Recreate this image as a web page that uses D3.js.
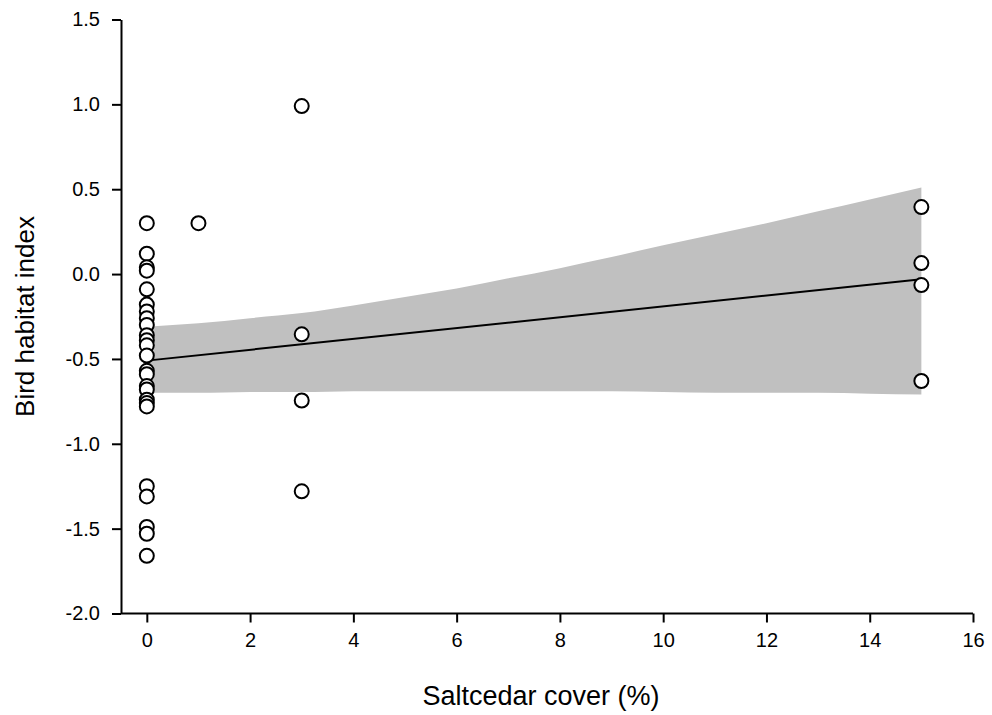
<!DOCTYPE html>
<html>
<head>
<meta charset="utf-8">
<script src="https://cdn.jsdelivr.net/npm/d3@7.9.0/dist/d3.min.js"></script>
<style>
  body { margin: 0; background: #fff; }
  svg text { font-family: Arial, "Liberation Sans", sans-serif; fill: #000; }
</style>
</head>
<body>
<svg id="chart" width="992" height="715"></svg>
<script>
// --- data ---
const xTicks = [0, 2, 4, 6, 8, 10, 12, 14, 16];
const yTicks = [-2.0, -1.5, -1.0, -0.5, 0.0, 0.5, 1.0, 1.5];

// observations: saltcedar cover (%) and bird habitat index
const coverX = [
  0, 0, 0, 0, 0, 0, 0, 0, 0, 0, 0, 0, 0, 0, 0, 0, 0, 0, 0, 0, 0, 0, 0, 0, 0,
  1,
  3, 3, 3, 3,
  15, 15, 15, 15
];
const habitatY = [
  0.30, 0.12, 0.04, 0.02, -0.09, -0.18, -0.22, -0.26, -0.30, -0.36, -0.39, -0.42,
  -0.48, -0.57, -0.59, -0.66, -0.68, -0.74, -0.76, -0.78, -1.25, -1.31, -1.49, -1.53, -1.66,
  0.30,
  0.99, -0.355, -0.745, -1.28,
  0.395, 0.065, -0.065, -0.63
];

// fitted line + 95% band
const fitX     = [0, 15];
const fitY     = [-0.51, -0.03];
const bandX    = [0, 1, 2, 3, 4, 5, 6, 7, 8, 9, 10, 11, 12, 13, 14, 15];
const bandUp   = [-0.31, -0.29, -0.26, -0.23, -0.185, -0.135, -0.085, -0.025, 0.035, 0.10, 0.17, 0.235, 0.30, 0.37, 0.44, 0.51];
const bandLow  = [-0.70, -0.70, -0.695, -0.695, -0.69, -0.69, -0.69, -0.69, -0.69, -0.69, -0.695, -0.70, -0.70, -0.70, -0.705, -0.71];

// --- layout ---
const svg = d3.select('#chart');
const x = d3.scaleLinear().domain([-0.5, 16]).range([121, 973]);
const y = d3.scaleLinear().domain([-2.0, 1.5]).range([613.5, 19.5]);

// band
const band = bandX.map((v, i) => ({ x: v, lo: bandLow[i], hi: bandUp[i] }));
svg.append('path')
  .datum(band)
  .attr('fill', '#c0c0c0')
  .attr('d', d3.area().curve(d3.curveMonotoneX).x(d => x(d.x)).y0(d => y(d.lo)).y1(d => y(d.hi)));

// regression line
svg.append('path')
  .datum(fitX.map((v, i) => [v, fitY[i]]))
  .attr('fill', 'none')
  .attr('stroke', '#000')
  .attr('stroke-width', 2)
  .attr('d', d3.line().x(d => x(d[0])).y(d => y(d[1])));

// points
svg.append('g')
  .selectAll('circle')
  .data(coverX.map((v, i) => [v, habitatY[i]]))
  .join('circle')
  .attr('cx', d => x(d[0]))
  .attr('cy', d => y(d[1]))
  .attr('r', 7)
  .attr('fill', '#fff')
  .attr('stroke', '#000')
  .attr('stroke-width', 2);

// axes
const fmt = d => d3.format('.1f')(d).replace('\u2212', '-');
const xAxis = svg.append('g')
  .attr('transform', `translate(0,${y(-2.0)})`)
  .call(d3.axisBottom(x).tickValues(xTicks).tickSize(9).tickPadding(10).tickSizeOuter(0));
const yAxis = svg.append('g')
  .attr('transform', `translate(${x(-0.5)},0)`)
  .call(d3.axisLeft(y).tickValues(yTicks).tickSize(9).tickPadding(12).tickFormat(fmt).tickSizeOuter(0));

[xAxis, yAxis].forEach(g => {
  g.select('.domain').attr('stroke', '#000').attr('stroke-width', 2);
  g.selectAll('.tick line').attr('stroke', '#000').attr('stroke-width', 2);
  g.selectAll('.tick text').attr('font-size', 20).attr('font-family', 'Arial, "Liberation Sans", sans-serif');
});
xAxis.select('.domain').attr('d', `M${x(-0.5)},0H${x(16)}`);

// axis titles
svg.append('text')
  .attr('x', (x(-0.5) + x(16)) / 2 - 6)
  .attr('y', 705)
  .attr('text-anchor', 'middle')
  .attr('font-size', 27)
  .text('Saltcedar cover (%)');

svg.append('text')
  .attr('transform', `translate(34,${(y(-2.0) + y(1.5)) / 2}) rotate(-90)`)
  .attr('text-anchor', 'middle')
  .attr('font-size', 26)
  .text('Bird habitat index');
</script>
</body>
</html>
